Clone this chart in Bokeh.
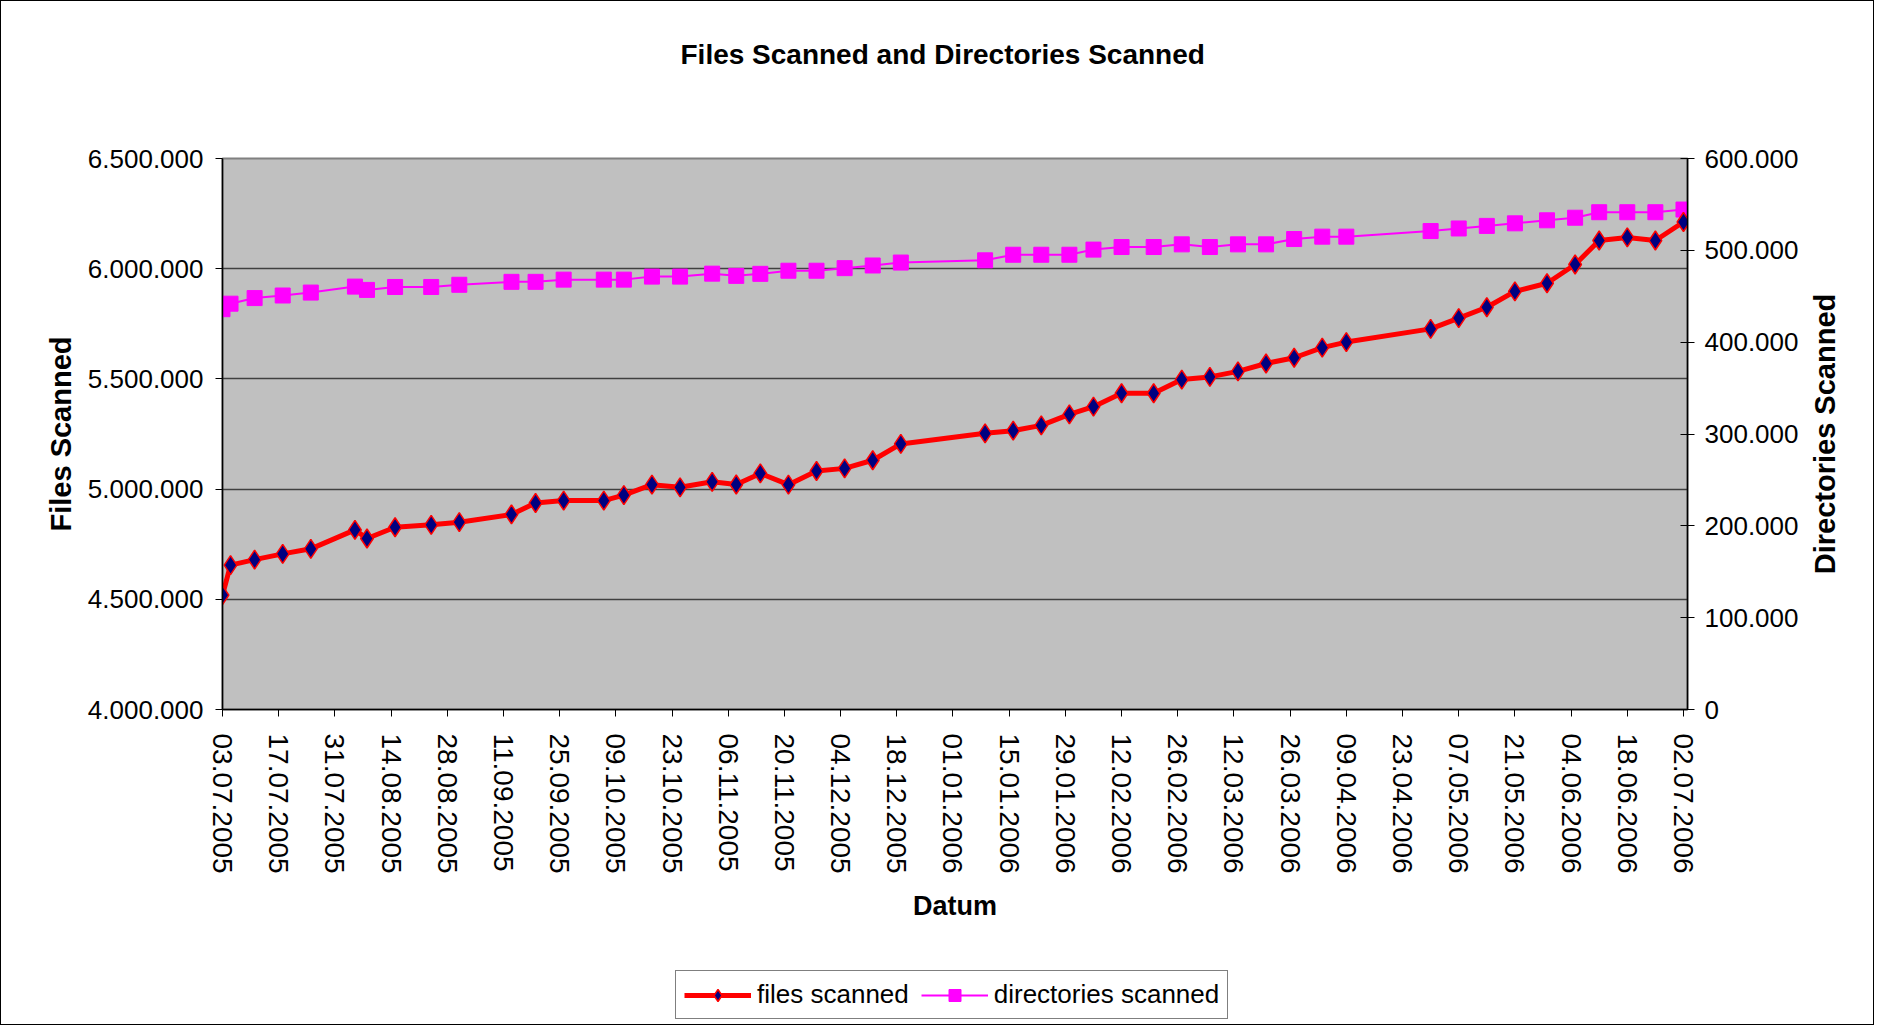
import pandas as pd
from bokeh.plotting import figure
from bokeh.layouts import column, row
from bokeh.models import (Range1d, LinearAxis, FixedTicker, DatetimeTickFormatter,
                          Legend, LegendItem)
from bokeh.embed import file_html
from bokeh.resources import INLINE

# ---------------- data ----------------
dates = [
    "03.07.2005", "05.07.2005", "11.07.2005", "18.07.2005", "25.07.2005",
    "05.08.2005", "08.08.2005", "15.08.2005", "24.08.2005", "31.08.2005",
    "13.09.2005", "19.09.2005", "26.09.2005", "06.10.2005", "11.10.2005",
    "18.10.2005", "25.10.2005", "02.11.2005", "08.11.2005", "14.11.2005",
    "21.11.2005", "28.11.2005", "05.12.2005", "12.12.2005", "19.12.2005",
    "09.01.2006", "16.01.2006", "23.01.2006", "30.01.2006", "05.02.2006",
    "12.02.2006", "20.02.2006", "27.02.2006", "06.03.2006", "13.03.2006",
    "20.03.2006", "27.03.2006", "03.04.2006", "09.04.2006", "30.04.2006",
    "07.05.2006", "14.05.2006", "21.05.2006", "29.05.2006", "05.06.2006",
    "11.06.2006", "18.06.2006", "25.06.2006", "02.07.2006",
]
files_scanned = [
    4519000, 4655000, 4680000, 4706000, 4729000,
    4815000, 4776000, 4827000, 4838000, 4850000,
    4885000, 4937000, 4948000, 4948000, 4973000,
    5020000, 5008000, 5033000, 5021000, 5071000,
    5020000, 5082000, 5094000, 5131000, 5205000,
    5253000, 5265000, 5289000, 5339000, 5374000,
    5435000, 5435000, 5497000, 5509000, 5534000,
    5570000, 5596000, 5642000, 5667000, 5727000,
    5776000, 5825000, 5897000, 5934000, 6019000,
    6128000, 6142000, 6128000, 6212000,
]
directories_scanned = [
    435900, 441900, 448000, 450800, 454000,
    460500, 456900, 460100, 460100, 462500,
    465700, 465700, 468100, 468100, 468100,
    471400, 471400, 474600, 472200, 474400,
    477800, 477800, 480600, 483500, 486700,
    489100, 495200, 495200, 495200, 500800,
    503600, 503600, 506500, 503600, 506500,
    506500, 512300, 514900, 514900, 521000,
    523800, 526600, 529400, 532700, 535500,
    541500, 541500, 541500, 544400,
]
x_tick_labels = [
    "03.07.2005", "17.07.2005", "31.07.2005", "14.08.2005", "28.08.2005",
    "11.09.2005", "25.09.2005", "09.10.2005", "23.10.2005", "06.11.2005",
    "20.11.2005", "04.12.2005", "18.12.2005", "01.01.2006", "15.01.2006",
    "29.01.2006", "12.02.2006", "26.02.2006", "12.03.2006", "26.03.2006",
    "09.04.2006", "23.04.2006", "07.05.2006", "21.05.2006", "04.06.2006",
    "18.06.2006", "02.07.2006",
]
x_start, x_end = "03.07.2005", "03.07.2006"
left_ticks = [4000000, 4500000, 5000000, 5500000, 6000000, 6500000]
left_tick_labels = ["4.000.000", "4.500.000", "5.000.000", "5.500.000", "6.000.000", "6.500.000"]
right_ticks = [0, 100000, 200000, 300000, 400000, 500000, 600000]
right_tick_labels = ["0", "100.000", "200.000", "300.000", "400.000", "500.000", "600.000"]

FONT = "Liberation Sans"

x = pd.to_datetime(dates, format="%d.%m.%Y")
xt = pd.to_datetime(x_tick_labels, format="%d.%m.%Y")
xt_ms = [int(t.value // 10**6) for t in xt]
xs = pd.to_datetime(x_start, format="%d.%m.%Y").value // 10**6
xe = pd.to_datetime(x_end, format="%d.%m.%Y").value // 10**6

WP = 1800         # width of the title / chart / legend column
WR = 72           # strip carrying the right-hand axis title
HT = 120          # title strip height
H1 = 945          # title strip + chart height
H2 = 78           # legend strip height
FL, FR, FT, FB = 221, 1687, 157, 708   # plot frame edges (page coordinates)


def blank_strip(width, height, **kw):
    f = figure(width=width, height=height, output_backend="svg", toolbar_location=None,
               x_range=Range1d(0, 1), y_range=Range1d(0, 1), **kw)
    f.outline_line_color = None
    f.background_fill_color = "white"
    f.border_fill_color = "white"
    f.grid.visible = False
    return f


# ---------------- title strip ----------------
t = blank_strip(WP, HT, x_axis_location=None, y_axis_location=None,
                min_border_left=0, min_border_right=0, min_border_top=0,
                min_border_bottom=0)
t.title.text = "Files Scanned and Directories Scanned"
t.title.align = "left"
t.title.offset = 458
t.title.text_font = FONT
t.title.text_font_size = "28px"
t.title.text_font_style = "bold"
t.title.text_color = "black"
t.title.vertical_align = "top"
t.title.standoff = 75

# ---------------- main chart ----------------
p = figure(width=WP, height=H1 - HT, output_backend="svg", toolbar_location=None,
           x_axis_type="datetime",
           x_range=Range1d(xs, xe), y_range=Range1d(4000000, 6500000),
           min_border_left=FL, min_border_right=WP - FR, min_border_top=FT - HT,
           min_border_bottom=H1 - FB)
p.title = None
p.background_fill_color = "#C0C0C0"
p.border_fill_color = "white"
p.outline_line_color = "#808080"
p.outline_line_width = 2

xa = p.below[0]
ya = p.left[0]

# grid
p.xgrid.visible = False
p.ygrid.grid_line_color = "#404040"
p.ygrid.grid_line_width = 1.5
p.ygrid.ticker = FixedTicker(ticks=left_ticks)

# x axis
xa.ticker = FixedTicker(ticks=xt_ms)
fmt = "%d.%m.%Y"
xa.formatter = DatetimeTickFormatter(microseconds=fmt, milliseconds=fmt, seconds=fmt,
                                     minsec=fmt, minutes=fmt, hourmin=fmt, hours=fmt,
                                     days=fmt, months=fmt, years=fmt)
xa.major_label_orientation = "vertical"
xa.major_label_text_font = FONT
xa.major_label_text_font_size = "28px"
xa.major_label_text_color = "black"
xa.major_label_standoff = 17
xa.major_tick_out = 7
xa.major_tick_in = 0
xa.minor_tick_line_color = None
xa.axis_line_color = "black"
xa.axis_line_width = 1.5
xa.major_tick_line_color = "black"
xa.axis_label = "Datum"
xa.axis_label_text_font = FONT
xa.axis_label_text_font_size = "27px"
xa.axis_label_text_font_style = "bold"
xa.axis_label_text_color = "black"
xa.axis_label_standoff = 14

# left axis
ya.ticker = FixedTicker(ticks=left_ticks)
ya.major_label_overrides = dict(zip(left_ticks, left_tick_labels))
ya.major_label_text_font = FONT
ya.major_label_text_font_size = "26px"
ya.major_label_text_color = "black"
ya.major_label_standoff = 12
ya.major_tick_out = 7
ya.major_tick_in = 0
ya.minor_tick_line_color = None
ya.axis_line_color = "black"
ya.axis_line_width = 1.5
ya.axis_label = "Files Scanned"
ya.axis_label_text_font = FONT
ya.axis_label_text_font_size = "29px"
ya.axis_label_text_font_style = "bold"
ya.axis_label_text_color = "black"
ya.axis_label_standoff = 8

# right axis (ticks + labels)
p.extra_y_ranges = {"dirs": Range1d(0, 600000)}
ra = LinearAxis(y_range_name="dirs")
ra.ticker = FixedTicker(ticks=right_ticks)
ra.major_label_overrides = dict(zip(right_ticks, right_tick_labels))
ra.major_label_text_font = FONT
ra.major_label_text_font_size = "26px"
ra.major_label_text_color = "black"
ra.major_label_standoff = 10
ra.major_tick_out = 7
ra.major_tick_in = 7
ra.minor_tick_line_color = None
ra.axis_line_color = "black"
ra.axis_line_width = 1.5
p.add_layout(ra, "right")

# series
LINE_FILES = dict(line_color="#FF0000", line_width=5)
MARK_FILES = dict(marker="diamond", size=19, fill_color="#000080",
                  line_color="#FF0000", line_width=1.5)
LINE_DIRS = dict(line_color="#FF00FF", line_width=2)
MARK_DIRS = dict(marker="square", size=15, fill_color="#FF00FF", line_color="#FF00FF")

p.line(x, directories_scanned, y_range_name="dirs", **LINE_DIRS)
p.scatter(x, directories_scanned, y_range_name="dirs", **MARK_DIRS)
p.line(x, files_scanned, **LINE_FILES)
p.scatter(x, files_scanned, **MARK_FILES)

# ---------------- legend strip (series out of view; only the keys show) ----------------
q = blank_strip(WP, H2, x_axis_location=None, y_axis_location=None,
                min_border_left=0, min_border_right=0, min_border_top=0,
                min_border_bottom=0)
kl1 = q.line(x, files_scanned, **LINE_FILES)
ks1 = q.scatter(x, files_scanned, **MARK_FILES)
kl2 = q.line(x, directories_scanned, **LINE_DIRS)
ks2 = q.scatter(x, directories_scanned, **MARK_DIRS)

legend = Legend(items=[LegendItem(label="files scanned", renderers=[kl1, ks1]),
                       LegendItem(label="directories scanned", renderers=[kl2, ks2])],
                orientation="horizontal", location=(453, 5))
legend.label_text_font = FONT
legend.label_text_font_size = "26px"
legend.label_text_color = "black"
legend.border_line_color = "black"
legend.border_line_width = 1
legend.background_fill_color = "white"
legend.glyph_width = 67
legend.glyph_height = 30
legend.label_height = 30
legend.label_standoff = 6
legend.spacing = 12
legend.padding = 8
legend.margin = 0
q.add_layout(legend)

# ---------------- right strip: secondary axis title, bottom-to-top ----------------
r = blank_strip(WR, H1 + H2, x_axis_location=None,
                min_border_left=39, min_border_right=0, min_border_top=FT,
                min_border_bottom=H1 + H2 - FB)
rl = r.left[0]
rl.ticker = FixedTicker(ticks=[])
rl.axis_line_color = None
rl.major_tick_out = 0
rl.major_tick_in = 0
rl.minor_tick_out = 0
rl.minor_tick_in = 0
rl.major_label_standoff = 0
rl.axis_label = "Directories Scanned"
rl.axis_label_text_font = FONT
rl.axis_label_text_font_size = "29px"
rl.axis_label_text_font_style = "bold"
rl.axis_label_text_color = "black"
rl.axis_label_standoff = 0

layout = row(column(t, p, q, spacing=0), r, spacing=0)
layout.styles = {"border": "1px solid black"}

open("out.html", "w").write(file_html(layout, INLINE))
